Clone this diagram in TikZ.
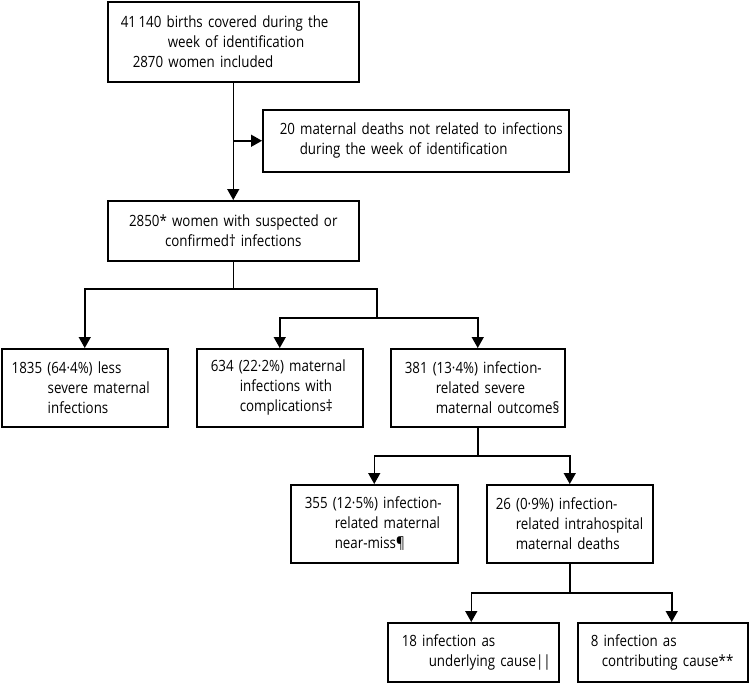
\documentclass[tikz,border=0pt]{standalone}
\usepackage{fontspec}
\setmainfont{Open Sans}[FakeStretch=0.86]
\usetikzlibrary{arrows.meta}
\begin{document}
\begin{tikzpicture}[x=1pt, y=-1pt, line width=1.5pt,
box/.style={draw, rectangle, anchor=north west, inner xsep=0pt, inner ysep=0pt, align=left, font=\fontsize{15.5}{20}\selectfont},
arr/.style={-{Triangle[width=12pt,length=11pt]}}]
\useasboundingbox (0,0) rectangle (753,683);
\node[box, text width=251pt, minimum height=80pt] (A) at (107,1) {\hspace*{13pt}41\,140 births covered during the\\\hspace*{60pt}week of identification\\\hspace*{25pt}2870 women included};
\node[box, text width=306pt, minimum height=62pt] (C) at (262,109) {\hspace*{17pt}20 maternal deaths not related to infections\\\hspace*{37pt}during the week of identification};
\node[box, align=center, text width=251pt, minimum height=60pt] (B) at (107,200) {2850* women with suspected or\\confirmed† infections};
\node[box, text width=166pt, minimum height=78pt] (D) at (1,348) {\hspace*{10pt}1835 (64·4\%) less\\\hspace*{46pt}severe maternal\\\hspace*{46pt}infections};
\node[box, text width=166pt, minimum height=78pt] (E) at (196,348) {\hspace*{14pt}634 (22·2\%) maternal\\\hspace*{43pt}infections with\\\hspace*{43pt}complications‡};
\node[box, text width=174pt, minimum height=78pt] (F) at (390,348) {\hspace*{14pt}381 (13·4\%) infection-\\\hspace*{45pt}related severe\\\hspace*{45pt}maternal outcome§};
\node[box, text width=167pt, minimum height=78pt] (G) at (290,484) {\hspace*{14pt}355 (12·5\%) infection-\\\hspace*{44pt}related maternal\\\hspace*{44pt}near-miss¶};
\node[box, text width=166pt, minimum height=78pt] (H) at (486,484) {\hspace*{9pt}26 (0·9\%) infection-\\\hspace*{29pt}related intrahospital\\\hspace*{29pt}maternal deaths};
\node[box, text width=171pt, minimum height=59pt] (I) at (387,622) {\hspace*{14pt}18 infection as\\\hspace*{41pt}underlying cause||};
\node[box, text width=170pt, minimum height=59pt] (J) at (577,622) {\hspace*{13pt}8 infection as\\\hspace*{24pt}contributing cause**};
\draw[arr] (A.south) -- (B.north);
\draw[arr] (A.south |- C.west) -- (C.west);
\coordinate (j1) at (B.south |- 0,289);
\coordinate (j2) at (377,318);
\draw (B.south) -- (j1);
\draw[arr] (j1) -| (D.north);
\draw (j1) -| (j2);
\draw[arr] (j2) -| (E.north);
\draw[arr] (j2) -| (F.north);
\coordinate (j3) at (F.south |- 0,456);
\draw (F.south) -- (j3);
\draw[arr] (j3) -| (G.north);
\draw[arr] (j3) -| (H.north);
\coordinate (j4) at (H.south |- 0,593);
\draw (H.south) -- (j4);
\draw[arr] (j4) -| ([xshift=-2pt]I.north);
\draw[arr] (j4) -| ([xshift=9pt]J.north);
\end{tikzpicture}
\end{document}
